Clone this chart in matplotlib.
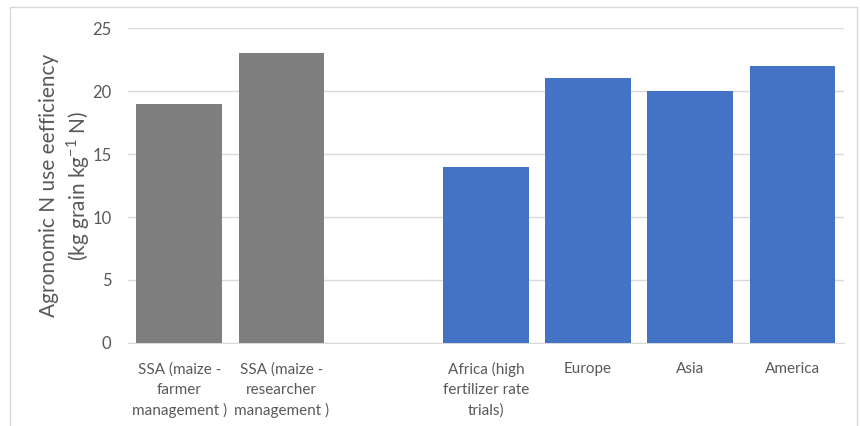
import matplotlib.pyplot as plt
from matplotlib.patches import Rectangle

# categories (blank slot between the two groups)
labels = ["SSA (maize -\nfarmer\nmanagement )", "SSA (maize -\nresearcher\nmanagement )", "",
          "Africa (high\nfertilizer rate\ntrials)", "Europe", "Asia", "America"]
values = [19, 23, 0, 14, 21, 20, 22]
colors = ["#7f7f7f", "#7f7f7f", "none", "#4472c4", "#4472c4", "#4472c4", "#4472c4"]

plt.rcParams['font.family'] = ['Lato', 'DejaVu Sans']
plt.rcParams['mathtext.fontset'] = 'custom'
plt.rcParams['mathtext.rm'] = 'Lato'
plt.rcParams['axes.unicode_minus'] = False
txt = "#595959"

fig = plt.figure(figsize=(8.6, 4.26), dpi=100)
ax = fig.add_axes([0.149, 0.195, 0.832, 0.739])

x = list(range(len(labels)))
ax.bar(x, values, width=0.84, color=colors, zorder=3)

ax.set_xlim(-0.5, 6.5)
ax.set_ylim(0, 25)
ax.set_yticks([0, 5, 10, 15, 20, 25])
ax.set_xticks(x)
ax.set_xticklabels(labels, fontsize=11, color=txt, linespacing=1.55)
ax.tick_params(axis='y', labelsize=12, labelcolor=txt, length=0, pad=12)
ax.tick_params(axis='x', length=0, pad=14)
ax.yaxis.grid(True, color="#d9d9d9", linewidth=1, zorder=0)
for s in ["top", "right", "left"]:
    ax.spines[s].set_visible(False)
ax.spines["bottom"].set_color("#d9d9d9")

ax.set_ylabel("Agronomic N use eefficiency\n(kg grain kg$^{\\mathrm{-1}}$ N)", fontsize=15,
              color=txt, labelpad=0, linespacing=1.25)

# outer chart border
fig.patches.append(Rectangle((0.012, -0.05), 0.985, 1.034, transform=fig.transFigure,
                             fill=False, edgecolor="#d9d9d9", linewidth=1))

fig.savefig("out.png", dpi=100)
